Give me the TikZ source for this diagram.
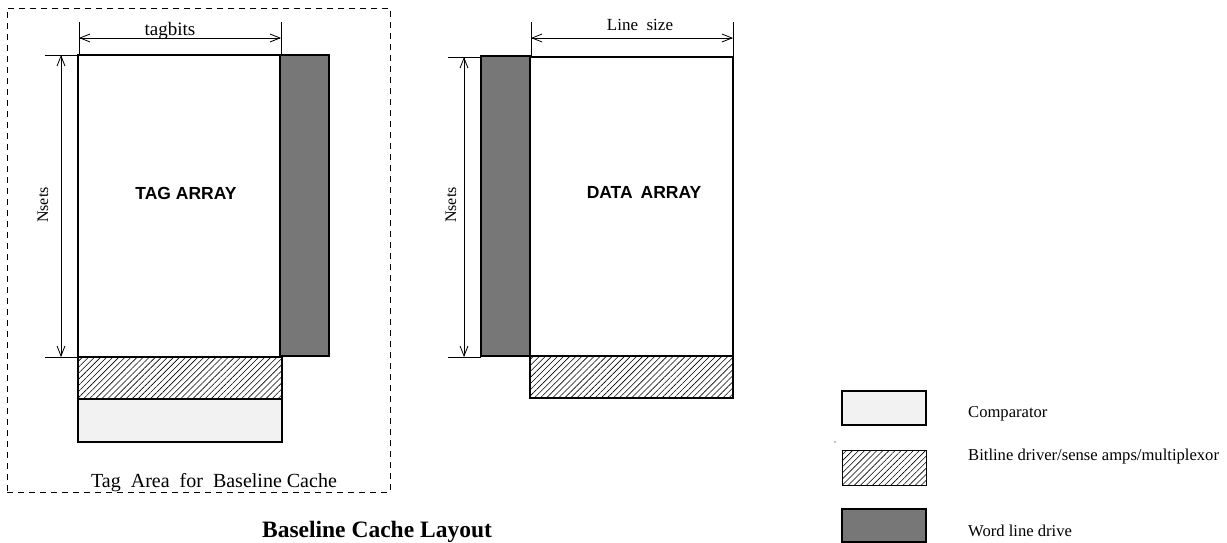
\documentclass[tikz,border=0pt]{standalone}
\usepackage{fontspec}
\setmainfont{Liberation Serif}
\newfontfamily\labsans{Liberation Sans}
\usetikzlibrary{arrows.meta,patterns.meta}
\definecolor{wlgray}{HTML}{777777}
\definecolor{cmpgray}{HTML}{F2F2F2}
\newcommand{\fsz}[1]{\fontsize{#1}{#1}\selectfont}
\tikzset{
  box/.style={draw, line width=1.4pt, inner sep=0pt, outer sep=0pt, anchor=north west},
  wld/.style={box, fill=wlgray},
  hatchbox/.style={box, pattern={Lines[angle=45,distance=4.3pt,line width=0.6pt]}},
  cmpbox/.style={box, fill=cmpgray},
  dimline/.style={line width=0.8pt, {Straight Barb[length=10pt,width=8pt]}-{Straight Barb[length=10pt,width=8pt]}},
  extline/.style={line width=0.8pt},
  serlab/.style={inner sep=0pt, anchor=base},
  arrlab/.style={inner sep=0pt, font=\labsans\bfseries\fsz{17.5}},
  leglab/.style={inner sep=0pt, anchor=base west, font=\fsz{16.6}},
}
\begin{document}
\begin{tikzpicture}[x=1pt,y=-1pt]
\useasboundingbox (0,0) rectangle (1227,543);
% dashed tag area
\node[draw, dashed, dash pattern=on 6pt off 5pt, line width=0.8pt, inner sep=0pt, anchor=north west,
  minimum width=383pt, minimum height=484pt] (tagarea) at (7,8) {};
% tag side
\node[box, minimum width=202pt, minimum height=302pt] (tag) at (78,55) {};
\node[wld, minimum width=49pt, minimum height=301pt] (tagwl) at (280,55) {};
\node[hatchbox, minimum width=204pt, minimum height=42pt] (taghatch) at (78,357) {};
\node[cmpbox, minimum width=204pt, minimum height=43pt] (tagcmp) at (78,399) {};
% data side
\node[wld, minimum width=49pt, minimum height=300pt] (datawl) at (481,56) {};
\node[box, minimum width=203pt, minimum height=299pt] (data) at (530,57) {};
\node[hatchbox, minimum width=203pt, minimum height=42pt] (datahatch) at (530,356) {};
% legend
\node[cmpbox, minimum width=84pt, minimum height=34pt] (lgcmp) at (842,391) {};
\node[hatchbox, line width=0.8pt, minimum width=84pt, minimum height=35pt] (lghatch) at (842,450) {};
\node[wld, minimum width=84pt, minimum height=33pt] (lgwl) at (842,509) {};
\fill (835,442) circle (0.7pt);
% dimension coordinates
\coordinate (tbTL) at (79,22);  \coordinate (tbBL) at (79,55);
\coordinate (tbTR) at (281,22); \coordinate (tbBR) at (281,55);
\coordinate (tbL) at (79,38);   \coordinate (tbR) at (281,38);
\coordinate (tnT1) at (45,55);  \coordinate (tnT2) at (78,55);
\coordinate (tnB1) at (45,357); \coordinate (tnB2) at (78,357);
\coordinate (tnA) at (61,55);   \coordinate (tnB) at (61,357);
\coordinate (lsTL) at (531,22); \coordinate (lsBL) at (531,56);
\coordinate (lsTR) at (733,22); \coordinate (lsBR) at (733,56);
\coordinate (lsL) at (531,38);  \coordinate (lsR) at (733,38);
\coordinate (dnT1) at (448,57); \coordinate (dnT2) at (481,57);
\coordinate (dnB1) at (448,357);\coordinate (dnB2) at (481,357);
\coordinate (dnA) at (464,57);  \coordinate (dnB) at (464,357);
% extension lines
\draw[extline] (tbTL) -- (tbBL);
\draw[extline] (tbTR) -- (tbBR);
\draw[extline] (tnT1) -- (tnT2);
\draw[extline] (tnB1) -- (tnB2);
\draw[extline] (lsTL) -- (lsBL);
\draw[extline] (lsTR) -- (lsBR);
\draw[extline] (dnT1) -- (dnT2);
\draw[extline] (dnB1) -- (dnB2);
% dimension arrows
\draw[dimline] (tbL) -- (tbR);
\draw[dimline] (tnA) -- (tnB);
\draw[dimline] (lsL) -- (lsR);
\draw[dimline] (dnA) -- (dnB);
% labels
\node[serlab, font=\fsz{19}] (ltagbits) at (170,36) {tagbits};
\node[serlab, font=\fsz{17}] (llinesize) at (640,30.5) {Line\hspace{0.5em}size};
\node[inner sep=0pt, rotate=90, font=\fsz{16}] (lnsets1) at (43,205) {Nsets};
\node[inner sep=0pt, rotate=90, font=\fsz{16}] (lnsets2) at (451,205) {Nsets};
\node[arrlab] (ltag) at (186,193.5) {TAG ARRAY};
\node[arrlab] (ldata) at (644,192) {DATA\hspace{0.45em}ARRAY};
\node[serlab, font=\fsz{20}] (ltagarea) at (214,487) {Tag\hspace{0.5em}Area\hspace{0.5em}for\hspace{0.5em}Baseline Cache};
\node[serlab, font=\bfseries\fsz{23.5}] (ltitle) at (377,537) {Baseline Cache Layout};
\node[leglab] (tcmp) at (968,417) {Comparator};
\node[leglab] (thatch) at (968,460) {Bitline driver/sense amps/multiplexor};
\node[leglab] (twl) at (968,536) {Word line drive};
\end{tikzpicture}
\end{document}
